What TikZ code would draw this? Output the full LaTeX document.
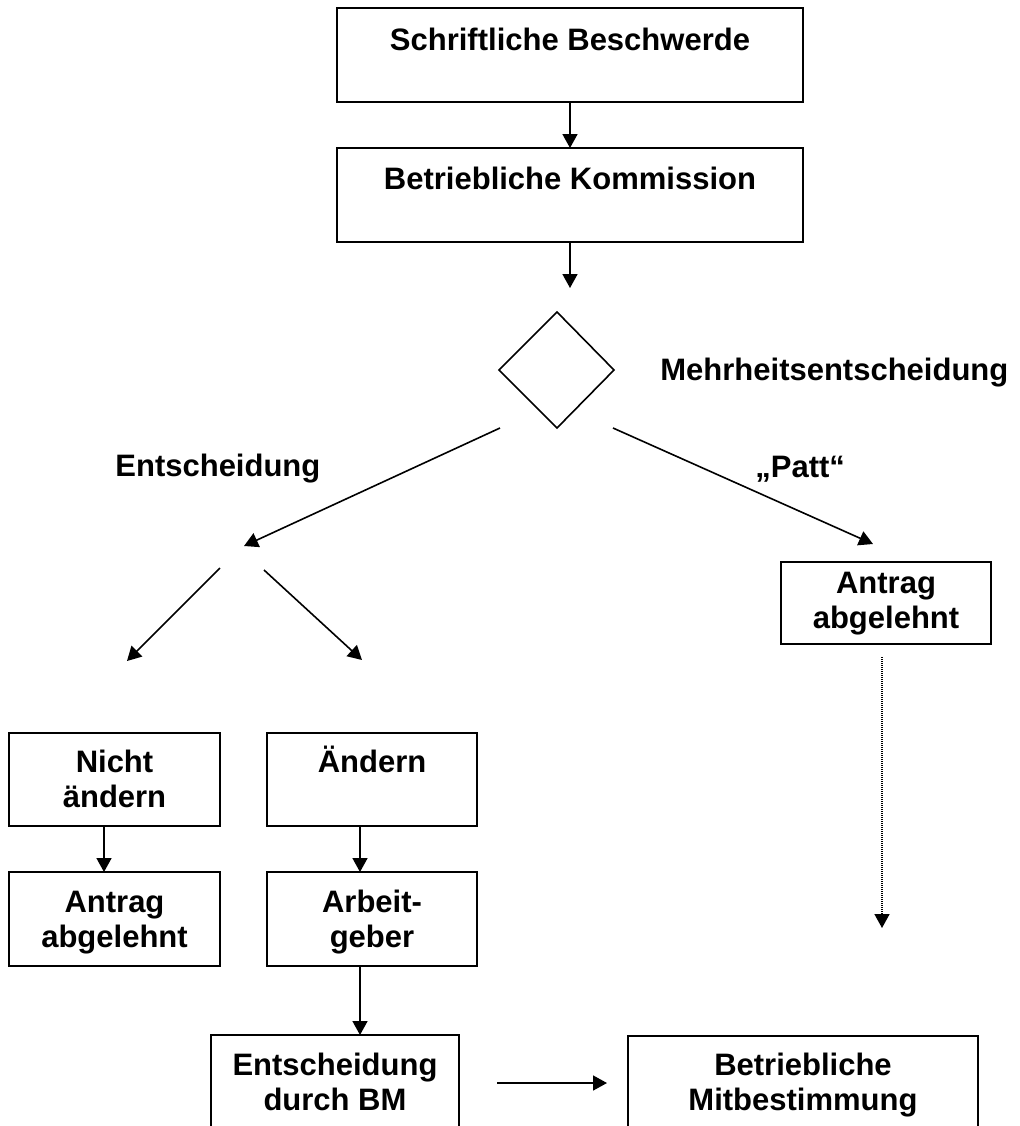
\documentclass[tikz,border=0pt]{standalone}
\usepackage{fontspec}
\setmainfont{Liberation Sans}
\usetikzlibrary{arrows.meta}
\begin{document}
\begin{tikzpicture}[x=0.5pt,y=-0.5pt,
  box/.style={draw,line width=1pt,inner sep=0pt},
  txt/.style={font=\bfseries\fontsize{15.5}{17.5}\selectfont,align=center,anchor=base,inner sep=0pt},
  lbl/.style={font=\bfseries\fontsize{15.5}{17.5}\selectfont,anchor=base west,inner sep=0pt},
  arr/.style={line width=0.8pt,-{Triangle[length=7pt,width=7.5pt]}},
  dotarr/.style={line width=0.8pt,dash pattern=on 0.5pt off 0.5pt,-{Triangle[length=7pt,width=7.5pt]}}]
\useasboundingbox (0,0) rectangle (1019,1126);
\clip (0,0) rectangle (1019,1126);
% boxes
\draw[box] (337,8) rectangle (803,102);
\coordinate (b1s) at (570,102);
\coordinate (b2n) at (570,148);
\coordinate (b2s) at (570,242);
\draw[box] (337,148) rectangle (803,242);
\node[txt] (t1) at (570,50) {Schriftliche Beschwerde};
\node[txt] (t2) at (570,189) {Betriebliche Kommission};
\draw[arr] (b1s) -- (b2n);
\coordinate (dtop) at (570,288);
\draw[arr] (b2s) -- (dtop);
% diamond
\coordinate (dn) at (557,312);
\coordinate (dw) at (499,370);
\coordinate (de) at (614,370);
\coordinate (ds) at (557,428);
\draw[line width=0.8pt] (dn) -- (de) -- (ds) -- (dw) -- cycle;
\node[lbl] (mehr) at (660,380) {Mehrheitsentscheidung};
% branches
\coordinate (l0) at (500,428);
\coordinate (l1) at (244,546);
\coordinate (r0) at (613,428);
\coordinate (r1) at (873,544);
\draw[arr] (l0) -- (l1);
\draw[arr] (r0) -- (r1);
\node[lbl] (ent) at (115,476) {Entscheidung};
\node[lbl] (patt) at (755,477) {„Patt“};
\coordinate (ll0) at (220,568);
\coordinate (ll1) at (127,661);
\coordinate (lr0) at (264,570);
\coordinate (lr1) at (362,660);
\draw[arr] (ll0) -- (ll1);
\draw[arr] (lr0) -- (lr1);
% left column boxes
\draw[box] (9,733) rectangle (220,826);
\node[txt] (t3) at (114.5,807) {Nicht\\ändern};
\draw[box] (267,733) rectangle (477,826);
\node[txt] (t4) at (372,772) {Ändern};
\draw[box] (9,872) rectangle (220,966);
\node[txt] (t5) at (114.5,947) {Antrag\\abgelehnt};
\draw[box] (267,872) rectangle (477,966);
\node[txt] (t6) at (372,947) {Arbeit-\\geber};
\coordinate (b3s) at (104,826);
\coordinate (b5n) at (104,872);
\draw[arr] (b3s) -- (b5n);
\coordinate (b4s) at (360,826);
\coordinate (b6n) at (360,872);
\draw[arr] (b4s) -- (b6n);
\coordinate (b6s) at (360,966);
\coordinate (b7n) at (360,1035);
\draw[arr] (b6s) -- (b7n);
% bottom boxes
\draw[box] (211,1035) rectangle (459,1160);
\node[txt] (t7) at (335,1110) {Entscheidung\\durch BM};
\draw[box] (628,1036) rectangle (978,1160);
\node[txt] (t8) at (803,1110) {Betriebliche\\Mitbestimmung};
\coordinate (h0) at (497,1083);
\coordinate (h1) at (607,1083);
\draw[arr] (h0) -- (h1);
% right box
\draw[box] (781,562) rectangle (991,644);
\node[txt] (t9) at (886,628) {Antrag\\abgelehnt};
\coordinate (v0) at (882,657);
\coordinate (v1) at (882,928);
\draw[dotarr] (v0) -- (v1);
\end{tikzpicture}
\end{document}
